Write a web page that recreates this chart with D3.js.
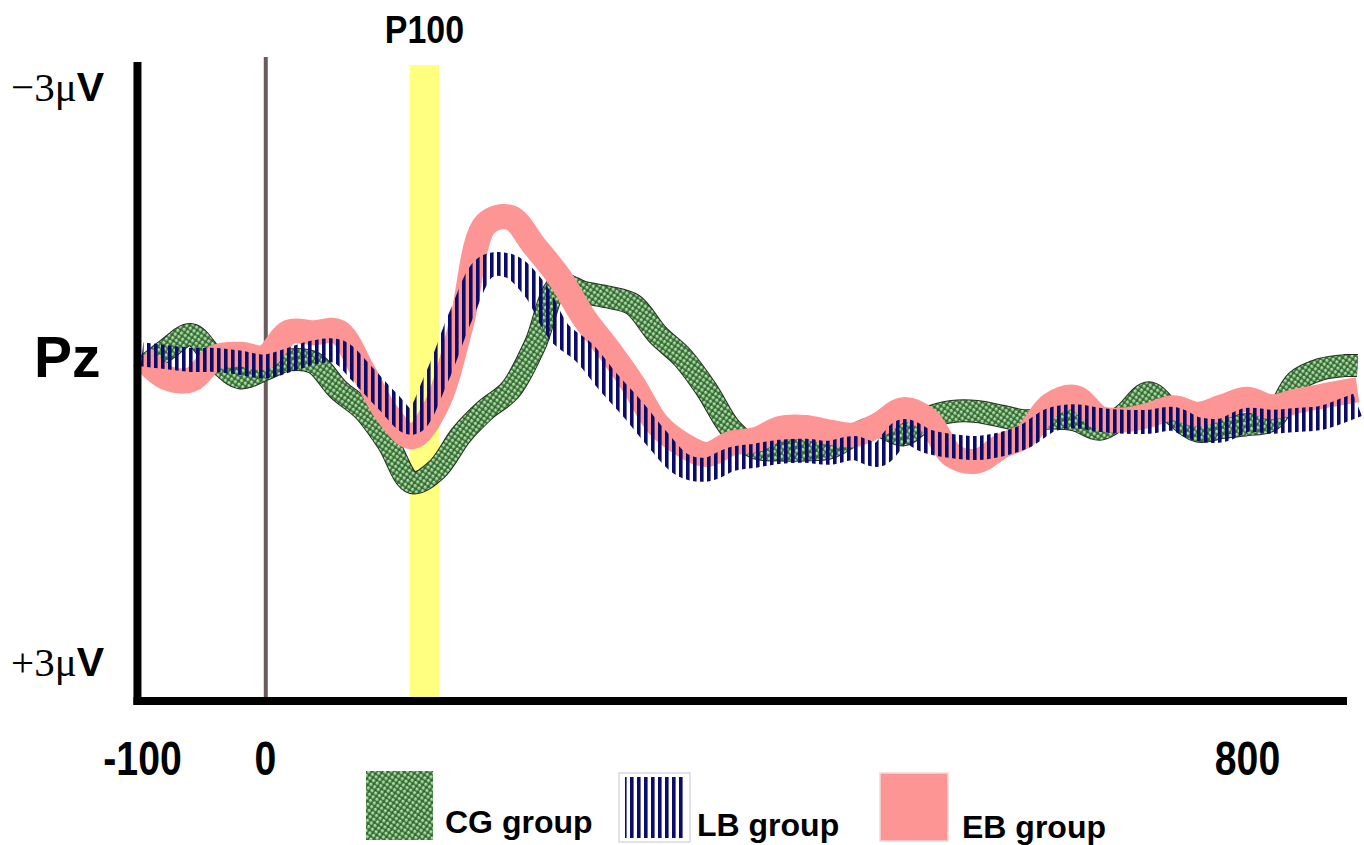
<!DOCTYPE html>
<html lang="en">
<head>
<meta charset="UTF-8"/>
<title>Pz ERP - P100</title>
<script src="https://d3js.org/d3.v7.min.js"></script>
<style>
body { margin: 0; background: #fff; }
svg { display: block; }
.bold { font-family: "Liberation Sans", Arial, sans-serif; font-weight: bold; fill: #000; }
.serif { font-family: "Liberation Serif", "Times New Roman", serif; font-weight: normal; }
</style>
</head>
<body>
<svg width="1364" height="845"></svg>
<script>
// time in ms, amplitude in microvolts (negative up)
const times = [-100, -80, -60, -40, -20, 0, 20, 40, 60, 80, 100, 120, 140, 160, 180, 200,
  220, 240, 260, 280, 300, 320, 340, 360, 380, 400, 420, 440, 460, 480, 500, 520, 540,
  560, 580, 600, 620, 640, 660, 680, 700, 720, 740, 760, 780, 800, 820, 840, 860, 880, 890];

const cgValues = [-0.12, -0.33, -0.49, -0.22, -0.03, -0.12, -0.22, -0.19, 0.10, 0.31, 0.66,
  1.09, 0.95, 0.58, 0.31, 0.10, -0.38, -1.02, -0.94, -0.89, -0.81, -0.49, -0.25, 0.10,
  0.52, 0.72, 0.74, 0.74, 0.72, 0.58, 0.49, 0.58, 0.40, 0.33, 0.33, 0.38, 0.43, 0.40,
  0.42, 0.52, 0.36, 0.13, 0.36, 0.54, 0.50, 0.47, 0.42, 0.01, -0.12, -0.16, -0.16];

const lbValues = [-0.28, -0.25, -0.22, -0.22, -0.19, -0.15, -0.22, -0.30, -0.31, -0.06, 0.22,
  0.45, -0.03, -0.70, -1.21, -1.22, -0.97, -0.51, -0.30, 0.02, 0.31, 0.63, 0.90, 0.95,
  0.84, 0.80, 0.76, 0.75, 0.77, 0.72, 0.79, 0.54, 0.65, 0.70, 0.72, 0.68, 0.59, 0.42,
  0.38, 0.42, 0.44, 0.44, 0.41, 0.52, 0.53, 0.42, 0.44, 0.42, 0.40, 0.31, 0.26];

const ebValues = [-0.25, -0.03, -0.01, -0.25, -0.28, -0.25, -0.52, -0.51, -0.52, -0.10, 0.36,
  0.60, 0.26, -0.60, -1.67, -1.74, -1.43, -1.10, -0.67, -0.33, 0.04, 0.47, 0.68, 0.79,
  0.67, 0.63, 0.51, 0.50, 0.55, 0.58, 0.47, 0.31, 0.42, 0.80, 0.86, 0.70, 0.58, 0.26,
  0.18, 0.40, 0.42, 0.37, 0.29, 0.36, 0.28, 0.20, 0.28, 0.22, 0.17, 0.12, 0.10];

const xTicks = [-100, 0, 800];
const yTicks = [-3, 3];
const groupNames = ["CG group", "LB group", "EB group"];
const p100Window = [118, 142];

const svg = d3.select('svg');

const x = d3.scaleLinear().domain([-100, 800]).range([142, 1247]);
const y = d3.scaleLinear().domain([-3.4, 3.42]).range([62, 701]);

// fills
const defs = svg.append('defs');

const cgPat = defs.append('pattern')
  .attr('id', 'cgPat')
  .attr('patternUnits', 'userSpaceOnUse')
  .attr('width', 4.5).attr('height', 4.5)
  .attr('patternTransform', 'rotate(35)');
cgPat.append('rect').attr('width', 4.5).attr('height', 4.5).attr('fill', '#356635');
cgPat.append('circle').attr('cx', 2.25).attr('cy', 2.25).attr('r', 1.7).attr('fill', '#8cc884');
cgPat.append('circle').attr('cx', 1.7).attr('cy', 1.7).attr('r', 0.7).attr('fill', '#e2f5dc');

const lbPat = defs.append('pattern')
  .attr('id', 'lbPat')
  .attr('patternUnits', 'userSpaceOnUse')
  .attr('width', 7).attr('height', 10);
lbPat.append('rect').attr('x', 0).attr('width', 3.6).attr('height', 10).attr('fill', '#0b0b6b');

// P100 window
svg.append('rect')
  .attr('x', x(p100Window[0]))
  .attr('width', x(p100Window[1]) - x(p100Window[0]))
  .attr('y', 65)
  .attr('height', 697 - 65)
  .attr('fill', '#ffff80');

// stimulus onset
svg.append('line')
  .attr('x1', x(0) + 1).attr('x2', x(0) + 1)
  .attr('y1', 57).attr('y2', 700)
  .attr('stroke', '#6b5b5b')
  .attr('stroke-width', 4);

// waves
const line = d3.line()
  .x((d, i) => x(times[i]))
  .y(d => y(d))
  .curve(d3.curveCatmullRom.alpha(0.5));

svg.append('path')
  .attr('d', line(cgValues))
  .attr('fill', 'none')
  .attr('stroke', '#22321f')
  .attr('stroke-width', 23)
  .attr('stroke-linejoin', 'round');
svg.append('path')
  .attr('d', line(cgValues))
  .attr('fill', 'none')
  .attr('stroke', 'url(#cgPat)')
  .attr('stroke-width', 21)
  .attr('stroke-linejoin', 'round');

svg.append('path')
  .attr('d', line(ebValues))
  .attr('fill', 'none')
  .attr('stroke', '#fd9595')
  .attr('stroke-width', 25)
  .attr('stroke-linejoin', 'round');

svg.append('path')
  .attr('d', line(lbValues))
  .attr('fill', 'none')
  .attr('stroke', 'url(#lbPat)')
  .attr('stroke-width', 24)
  .attr('stroke-linejoin', 'round');

// axes frame
svg.append('line')
  .attr('x1', x(-103.7)).attr('x2', x(-103.7))
  .attr('y1', y(-3.4)).attr('y2', y(3.42) + 4)
  .attr('stroke', '#000').attr('stroke-width', 8);
svg.append('line')
  .attr('x1', x(-103.7) - 4).attr('x2', 1347)
  .attr('y1', y(3.42)).attr('y2', y(3.42))
  .attr('stroke', '#000').attr('stroke-width', 8);

// x tick labels
const xAxis = svg.append('g')
  .attr('transform', `translate(0, ${y(3.42)})`)
  .call(d3.axisBottom(x).tickValues(xTicks).tickSize(0).tickFormat(d3.format('d')));
xAxis.select('.domain').remove();
xAxis.selectAll('text')
  .attr('class', 'bold')
  .attr('y', 74).attr('dy', 0)
  .attr('transform', 'scale(0.8,1)')
  .style('font-size', '49px')
  .text(d => d < 0 ? '-' + Math.abs(d) : d);

// y labels
const yLab = svg.selectAll('text.ylab')
  .data(yTicks)
  .join('text')
  .attr('class', 'ylab')
  .attr('x', (d, i) => i === 0 ? 104 : 104)
  .attr('y', (d, i) => y(d) + (i === 0 ? 2 : 14))
  .attr('text-anchor', 'end')
  .style('font-size', '41px');
yLab.append('tspan')
  .attr('class', 'serif')
  .text(d => (d < 0 ? '\u2212' : '+') + Math.abs(d) + '\u03bc');
yLab.append('tspan')
  .attr('class', 'bold')
  .text('V');

svg.append('text')
  .attr('class', 'bold')
  .attr('x', 34).attr('y', y(0) - 4)
  .style('font-size', '57px')
  .text('Pz');

svg.append('text')
  .attr('class', 'bold')
  .attr('transform', `translate(${x(130)}, 43) scale(0.87,1)`)
  .attr('text-anchor', 'middle')
  .style('font-size', '39px')
  .text('P100');

// legend
const legX = [366, 619, 880];
const legTextX = [445, 697, 962];
const legTextY = [833, 836, 838];

svg.append('rect').attr('x', legX[0]).attr('y', 771).attr('width', 67).attr('height', 69)
  .attr('fill', 'url(#cgPat)');
svg.append('rect').attr('x', legX[1]).attr('y', 773).attr('width', 71).attr('height', 69)
  .attr('fill', '#fff').attr('stroke', '#d8d8e4').attr('stroke-width', 1.5);
svg.append('rect').attr('x', legX[1] + 6).attr('y', 777).attr('width', 60).attr('height', 61)
  .attr('fill', 'url(#lbPat)');
svg.append('rect').attr('x', legX[2]).attr('y', 773).attr('width', 68).attr('height', 68)
  .attr('fill', '#fd9595').attr('stroke', '#f2dada').attr('stroke-width', 1.5);

svg.selectAll('text.leg')
  .data(groupNames)
  .join('text')
  .attr('class', 'leg bold')
  .attr('x', (d, i) => legTextX[i])
  .attr('y', (d, i) => legTextY[i])
  .style('font-size', '32px')
  .text(d => d);
</script>
</body>
</html>
